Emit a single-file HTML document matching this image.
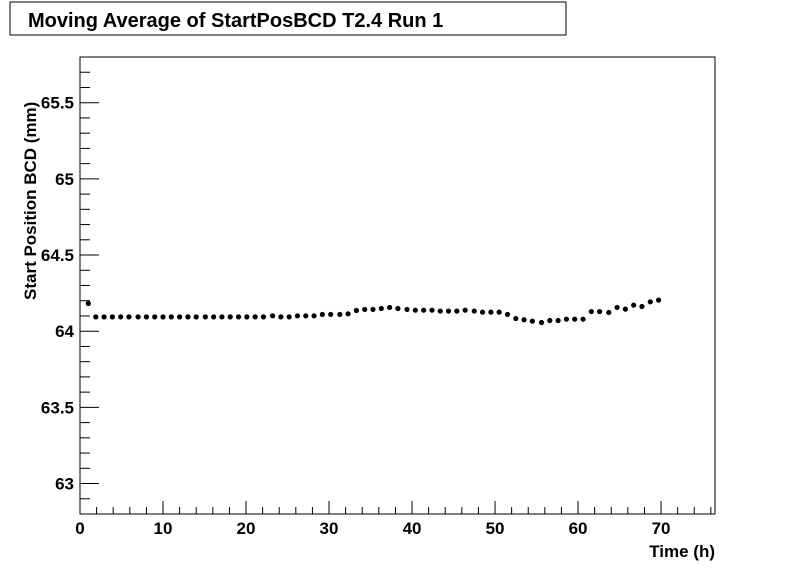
<!DOCTYPE html>
<html><head><meta charset="utf-8"><style>
body{margin:0;background:#fff;}
svg text{font-family:"Liberation Sans",Arial,sans-serif;font-weight:bold;}
</style></head><body>
<svg id="c" width="796" height="572" xmlns="http://www.w3.org/2000/svg">
<rect x="10" y="2" width="556" height="33" fill="#fff" stroke="#000"/>
<text x="28" y="27" font-size="20">Moving Average of StartPosBCD T2.4 Run 1</text>
<rect x="80" y="57" width="635" height="457" fill="none" stroke="#000"/>
<g id="axes"></g>
<g id="pts"></g>
<text x="715" y="557" font-size="17" text-anchor="end">Time (h)</text>
<text transform="translate(36,300) rotate(-90)" font-size="17">Start Position BCD (mm)</text>
</svg>
<script>
const times=[1.0,1.9,2.9,3.9,4.9,5.9,7.0,8.0,9.0,10.0,11.0,12.0,13.0,14.0,15.1,16.1,17.1,18.1,19.1,20.1,21.1,22.1,23.2,24.2,25.2,26.2,27.2,28.2,29.2,30.2,31.3,32.3,33.3,34.3,35.3,36.3,37.3,38.3,39.4,40.4,41.4,42.4,43.4,44.4,45.4,46.4,47.5,48.5,49.5,50.5,51.5,52.5,53.5,54.5,55.6,56.6,57.6,58.6,59.6,60.6,61.6,62.6,63.7,64.7,65.7,66.7,67.7,68.7,69.7];
const values=[64.182,
64.094,64.094,64.094,64.094,64.094,64.094,64.094,64.094,64.094,64.094,64.094,64.094,64.094,64.094,64.094,64.094,64.094,64.094,64.094,64.094,64.094,
64.101,64.094,64.094,64.101,64.101,64.101,64.110,64.110,64.110,64.114,64.136,64.143,64.143,
64.149,64.156,64.149,64.143,64.138,64.138,64.138,64.132,64.132,64.132,64.138,64.132,64.125,64.125,64.125,64.110,64.083,64.075,64.066,64.057,64.070,64.070,64.079,64.079,64.079,64.129,64.129,64.123,64.156,64.145,64.171,64.162,64.193,64.204];
const xTicks=[0,10,20,30,40,50,60,70];
const yTicks=[63,63.5,64,64.5,65,65.5];
const yTickLabels=["63","63.5","64","64.5","65","65.5"];
const X0=80,X1=715,XMIN=0,XMAX=76.5,Y0=514,Y1=57,YMIN=62.8,YMAX=65.8;
const sx=v=>X0+(v-XMIN)/(XMAX-XMIN)*(X1-X0);
const sy=v=>Y0-(v-YMIN)/(YMAX-YMIN)*(Y0-Y1);
const NS="http://www.w3.org/2000/svg";
const ax=document.getElementById('axes'),pg=document.getElementById('pts');
function mk(t,a,p){const e=document.createElementNS(NS,t);for(const k in a)e.setAttribute(k,a[k]);p.appendChild(e);return e;}
for(let v=0;v<=76;v+=2){const x=sx(v);const big=v%10===0;
const l=mk('line',{x1:x,x2:x,y1:Y0,y2:Y0-(big?13:7),stroke:'#000'},ax);

}
xTicks.forEach(v=>{const t=mk('text',{x:sx(v),y:534,'font-size':17,'text-anchor':'middle'},ax);t.textContent=v;

});
for(let i=0;i<=30;i++){const v=62.8+i*0.1;if(v>65.8)break;const y=sy(v);const big=Math.abs(v*2-Math.round(v*2))<1e-6;
const l=mk('line',{x1:X0,x2:X0+(big?19:10),y1:y,y2:y,stroke:'#000'},ax);

}
yTicks.forEach((v,i)=>{const t=mk('text',{x:74,y:sy(v)+6,'font-size':17,'text-anchor':'end'},ax);t.textContent=yTickLabels[i];

});
times.forEach((t,i)=>{const c=mk('circle',{cx:sx(t),cy:sy(values[i]),r:2.6,fill:'#000'},pg);

});
</script>
</body></html>
